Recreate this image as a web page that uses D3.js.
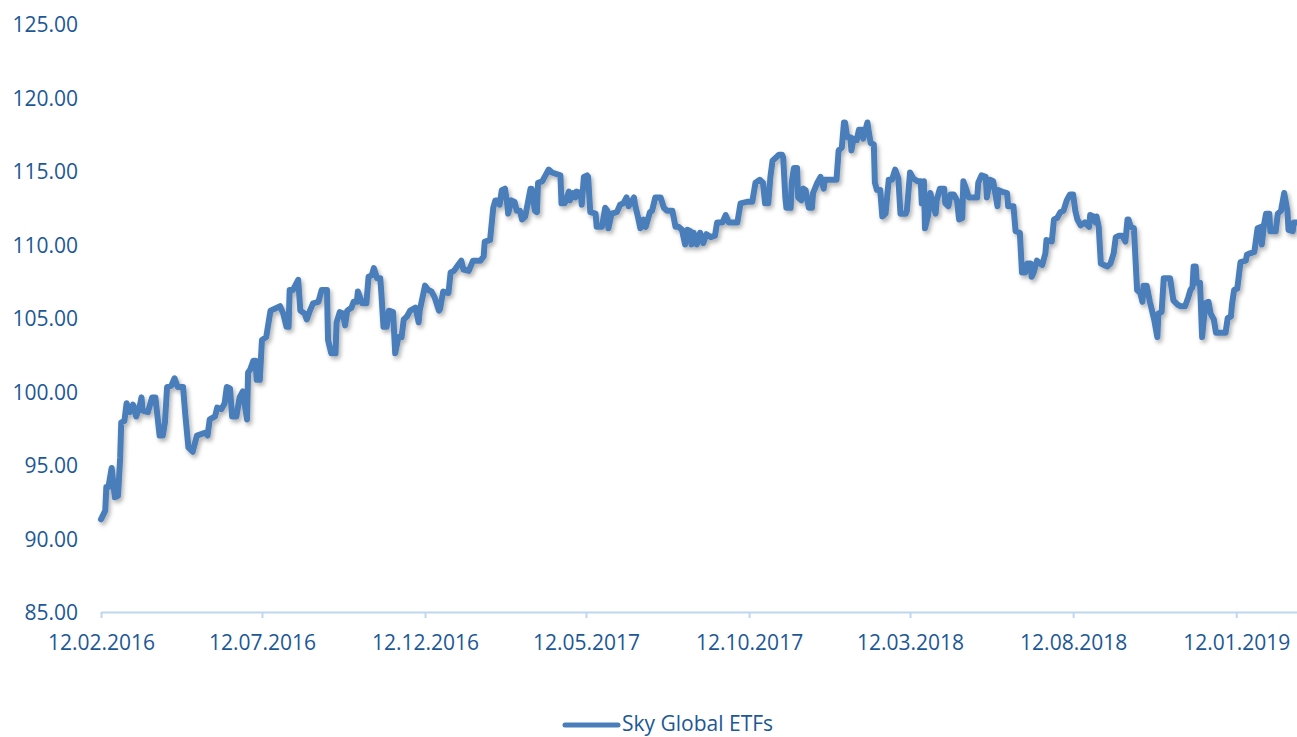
<!DOCTYPE html>
<html>
<head>
<meta charset="utf-8">
<script src="https://cdn.jsdelivr.net/npm/d3@7/dist/d3.min.js"></script>
<style>
  body { margin: 0; background: #fff; }
  text { font-family: "Open Sans", sans-serif; }
</style>
</head>
<body>
<svg id="chart" width="1297" height="737"></svg>
<script>
// Series: fund value, sampled at day offsets from the first date
var seriesName = "Sky Global ETFs";
var startDate = "12.02.2016";
var endOffset = 1122;

var dayOffsets = [
  0, 4, 5, 7, 10, 13, 16, 18, 19, 22,
  24, 27, 30, 33, 37, 38, 39, 44, 48, 51,
  53, 55, 58, 60, 62, 66, 69, 72, 77, 79,
  82, 86, 90, 98, 100, 102, 107, 109, 113, 116,
  118, 121, 123, 127, 130, 133, 137, 138, 140, 143,
  145, 146, 149, 151, 155, 159, 168, 171, 174, 176,
  177, 180, 185, 187, 191, 193, 196, 199, 204, 207,
  212, 213, 216, 220, 221, 224, 227, 229, 231, 235,
  237, 240, 241, 245, 249, 251, 254, 256, 259, 262,
  263, 265, 268, 270, 274, 276, 279, 282, 284, 287,
  290, 295, 298, 299, 304, 307, 310, 313, 317, 318,
  321, 326, 328, 331, 335, 338, 340, 345, 349, 356,
  359, 360, 365, 368, 370, 373, 374, 376, 379, 381,
  382, 385, 388, 390, 393, 395, 398, 399, 403, 404,
  407, 409, 410, 414, 417, 420, 423, 431, 432, 435,
  439, 440, 443, 445, 446, 450, 451, 453, 456, 457,
  459, 464, 465, 470, 473, 475, 476, 479, 484, 487,
  490, 493, 495, 500, 501, 504, 506, 509, 511, 515,
  517, 520, 525, 528, 531, 536, 539, 542, 545, 548,
  550, 553, 554, 556, 559, 562, 565, 568, 572, 576,
  578, 583, 586, 589, 597, 600, 606, 611, 614, 618,
  621, 623, 626, 628, 630, 633, 636, 639, 640, 642,
  643, 647, 648, 650, 653, 654, 657, 659, 661, 664,
  667, 668, 672, 675, 678, 679, 690, 692, 695, 697,
  698, 700, 703, 704, 706, 709, 711, 714, 715, 719,
  720, 722, 725, 726, 728, 731, 733, 736, 739, 742,
  745, 748, 750, 755, 756, 759, 762, 766, 769, 770,
  772, 773, 776, 778, 780, 783, 784, 787, 791, 792,
  795, 797, 800, 803, 805, 808, 809, 812, 814, 822,
  823, 826, 830, 831, 834, 837, 841, 842, 845, 850,
  851, 856, 858, 862, 864, 867, 869, 872, 873, 875,
  878, 881, 883, 886, 887, 892, 894, 897, 900, 903,
  906, 909, 912, 914, 916, 919, 923, 927, 928, 931,
  933, 934, 936, 938, 941, 944, 947, 950, 952, 955,
  958, 961, 963, 964, 966, 969, 972, 975, 977, 978,
  981, 984, 988, 991, 992, 995, 997, 1003, 1006, 1010,
  1013, 1017, 1020, 1022, 1024, 1025, 1027, 1028, 1031, 1033,
  1036, 1039, 1041, 1044, 1046, 1055, 1057, 1060, 1061, 1063,
  1066, 1069, 1074, 1075, 1078, 1082, 1085, 1088, 1089, 1091,
  1093, 1096, 1097, 1102, 1104, 1107, 1110, 1113, 1114, 1118,
  1119, 1122
];

var values = [
  91.3, 91.9, 93.5, 93.5, 94.8, 92.8, 92.9, 95.5, 97.9, 98.0,
  99.2, 98.6, 99.1, 98.3, 99.2, 99.6, 98.7, 98.6, 99.6, 99.6,
  98.3, 97.0, 97.0, 97.9, 100.3, 100.4, 100.9, 100.3, 100.3, 98.5,
  96.2, 95.9, 97.0, 97.2, 97.0, 98.1, 98.3, 98.9, 98.8, 99.2,
  100.3, 100.2, 98.3, 98.3, 99.6, 100.0, 98.1, 101.3, 101.5, 102.1,
  102.1, 100.8, 100.8, 103.5, 103.7, 105.5, 105.8, 105.3, 104.4, 104.4,
  106.9, 106.9, 107.6, 105.5, 105.3, 104.9, 105.5, 106.0, 106.1, 106.9,
  106.9, 103.5, 102.6, 102.6, 104.7, 105.4, 105.3, 104.5, 105.5, 105.7,
  106.1, 106.1, 106.8, 106.0, 106.0, 107.8, 107.9, 108.4, 107.7, 107.7,
  106.7, 104.4, 104.4, 105.5, 105.4, 102.6, 103.7, 103.7, 104.9, 105.1,
  105.5, 105.7, 104.7, 105.5, 107.2, 106.9, 106.8, 106.4, 105.5, 105.6,
  106.8, 106.7, 108.1, 108.2, 108.6, 108.9, 108.3, 108.2, 108.9, 108.9,
  109.2, 110.2, 110.3, 112.5, 113.0, 113.0, 112.7, 113.7, 113.8, 112.8,
  112.1, 113.0, 112.9, 112.3, 112.3, 111.7, 111.9, 112.3, 113.8, 113.8,
  112.3, 112.2, 114.2, 114.3, 114.7, 115.1, 114.9, 114.7, 112.8, 112.8,
  113.6, 113.0, 113.5, 113.2, 113.6, 113.5, 112.7, 114.6, 114.7, 114.6,
  112.2, 112.1, 111.2, 111.2, 112.5, 112.3, 111.1, 112.1, 112.2, 112.7,
  112.8, 113.2, 112.6, 113.2, 112.7, 111.8, 111.1, 111.7, 111.2, 112.2,
  112.3, 113.2, 113.2, 112.5, 112.3, 112.3, 111.2, 111.2, 111.0, 110.0,
  111.0, 110.9, 110.0, 110.8, 110.0, 110.8, 110.1, 110.7, 110.5, 110.6,
  111.5, 111.5, 112.0, 111.5, 111.5, 112.8, 112.9, 112.9, 114.2, 114.4,
  114.2, 112.8, 112.8, 114.6, 115.7, 115.9, 116.1, 116.1, 115.9, 113.2,
  112.5, 112.5, 114.2, 115.2, 115.2, 113.2, 113.0, 113.8, 113.7, 112.5,
  112.5, 113.5, 114.2, 114.6, 113.8, 114.4, 114.4, 116.4, 116.6, 118.3,
  118.3, 117.3, 117.3, 116.4, 117.2, 117.1, 117.8, 117.8, 117.2, 118.3,
  117.8, 116.9, 116.8, 114.2, 113.7, 113.7, 111.9, 112.1, 114.4, 114.4,
  115.1, 114.5, 112.1, 112.1, 112.3, 114.9, 114.5, 114.3, 114.3, 112.8,
  114.3, 111.1, 112.0, 113.5, 112.9, 112.1, 113.0, 113.8, 113.8, 112.8,
  112.6, 113.4, 113.4, 113.0, 111.7, 111.8, 114.3, 113.7, 113.2, 113.2,
  114.2, 114.7, 114.6, 113.2, 114.4, 114.3, 112.6, 113.7, 113.6, 113.5,
  112.6, 112.6, 110.9, 110.8, 108.1, 108.1, 108.7, 108.7, 107.8, 108.1,
  108.9, 108.7, 108.6, 109.4, 110.3, 110.2, 111.7, 111.8, 112.2, 112.3,
  113.0, 113.4, 113.4, 112.3, 111.7, 111.3, 111.5, 111.2, 112.0, 111.9,
  111.5, 111.9, 111.2, 108.7, 108.6, 108.5, 108.7, 109.4, 110.5, 110.6,
  110.6, 110.2, 111.7, 111.7, 111.2, 111.1, 106.9, 106.7, 106.1, 107.2,
  107.2, 106.1, 104.9, 103.7, 105.3, 105.4, 107.7, 107.7, 106.2, 105.9,
  105.8, 105.8, 106.4, 106.9, 107.1, 108.5, 108.5, 107.4, 107.4, 103.7,
  106.0, 106.1, 105.3, 104.9, 104.0, 104.0, 105.0, 105.1, 105.9, 106.9,
  107.0, 108.8, 108.9, 109.3, 109.4, 109.5, 111.1, 111.2, 110.0, 111.3,
  112.1, 112.1, 110.9, 110.9, 112.1, 112.3, 113.5, 112.3, 111.0, 110.9,
  111.5, 111.5
];

var xTickLabels = ["12.02.2016", "12.07.2016", "12.12.2016", "12.05.2017",
                   "12.10.2017", "12.03.2018", "12.08.2018", "12.01.2019"];
var yTicks = [85, 90, 95, 100, 105, 110, 115, 120, 125];

var width = 1297, height = 737;
var margin = { left: 101, right: 0, top: 24, bottom: 125 };

var textColor = "#1c5896";
var lineColor = "#4a7ebb";
var axisColor = "#bdd7ee";

var parseDate = d3.utcParse("%d.%m.%Y");
var fmtDate = d3.utcFormat("%d.%m.%Y");
var start = parseDate(startDate);

var data = dayOffsets.map(function(d, i) {
  return { date: d3.utcDay.offset(start, d), value: values[i] };
});

var x = d3.scaleUtc()
  .domain([start, d3.utcDay.offset(start, endOffset)])
  .range([margin.left, width - margin.right]);

var y = d3.scaleLinear()
  .domain([85, 125])
  .range([height - margin.bottom, margin.top]);

var svg = d3.select("#chart");

// soft shadow under the series line, like the office chart
var defs = svg.append("defs");
var shadow = defs.append("filter")
  .attr("id", "shadow")
  .attr("x", "-5%").attr("y", "-5%")
  .attr("width", "110%").attr("height", "120%");
shadow.append("feDropShadow")
  .attr("dx", 2).attr("dy", 3)
  .attr("stdDeviation", 2)
  .attr("flood-color", "#000")
  .attr("flood-opacity", 0.3);

// y axis: labels only
var yAxis = svg.append("g")
  .attr("transform", "translate(" + margin.left + ",0)")
  .call(d3.axisLeft(y)
    .tickValues(yTicks)
    .tickSize(0)
    .tickPadding(23)
    .tickFormat(d3.format(".2f")));
yAxis.select(".domain").remove();
yAxis.selectAll("text")
  .attr("dy", "0.36em")
  .attr("fill", textColor)
  .style("font-size", "21px")
  .style("font-family", "'Open Sans', sans-serif");

// x axis with date ticks
var xAxis = svg.append("g")
  .attr("transform", "translate(0," + y(85) + ")")
  .call(d3.axisBottom(x)
    .tickValues(xTickLabels.map(parseDate))
    .tickSize(6)
    .tickSizeOuter(0)
    .tickPadding(17)
    .tickFormat(fmtDate));
xAxis.select(".domain")
  .attr("stroke", axisColor)
  .attr("stroke-width", 2);
xAxis.selectAll(".tick line")
  .attr("stroke", axisColor)
  .attr("stroke-width", 2);
xAxis.selectAll("text")
  .attr("fill", textColor)
  .style("font-size", "21px")
  .style("font-family", "'Open Sans', sans-serif");

// the series line
var line = d3.line()
  .x(function(d) { return x(d.date); })
  .y(function(d) { return y(d.value); });

svg.append("path")
  .datum(data)
  .attr("d", line)
  .attr("fill", "none")
  .attr("stroke", lineColor)
  .attr("stroke-width", 6)
  .attr("stroke-linejoin", "round")
  .attr("stroke-linecap", "round")
  .attr("filter", "url(#shadow)");

// legend at the bottom
var legend = svg.append("g").attr("transform", "translate(565,725)");
legend.append("line")
  .attr("x1", 0).attr("x2", 53)
  .attr("y1", 0).attr("y2", 0)
  .attr("stroke", lineColor)
  .attr("stroke-width", 5)
  .attr("stroke-linecap", "round");
legend.append("text")
  .attr("x", 57)
  .attr("y", 6)
  .attr("fill", textColor)
  .style("font-size", "21px")
  .text(seriesName);
</script>
</body>
</html>
